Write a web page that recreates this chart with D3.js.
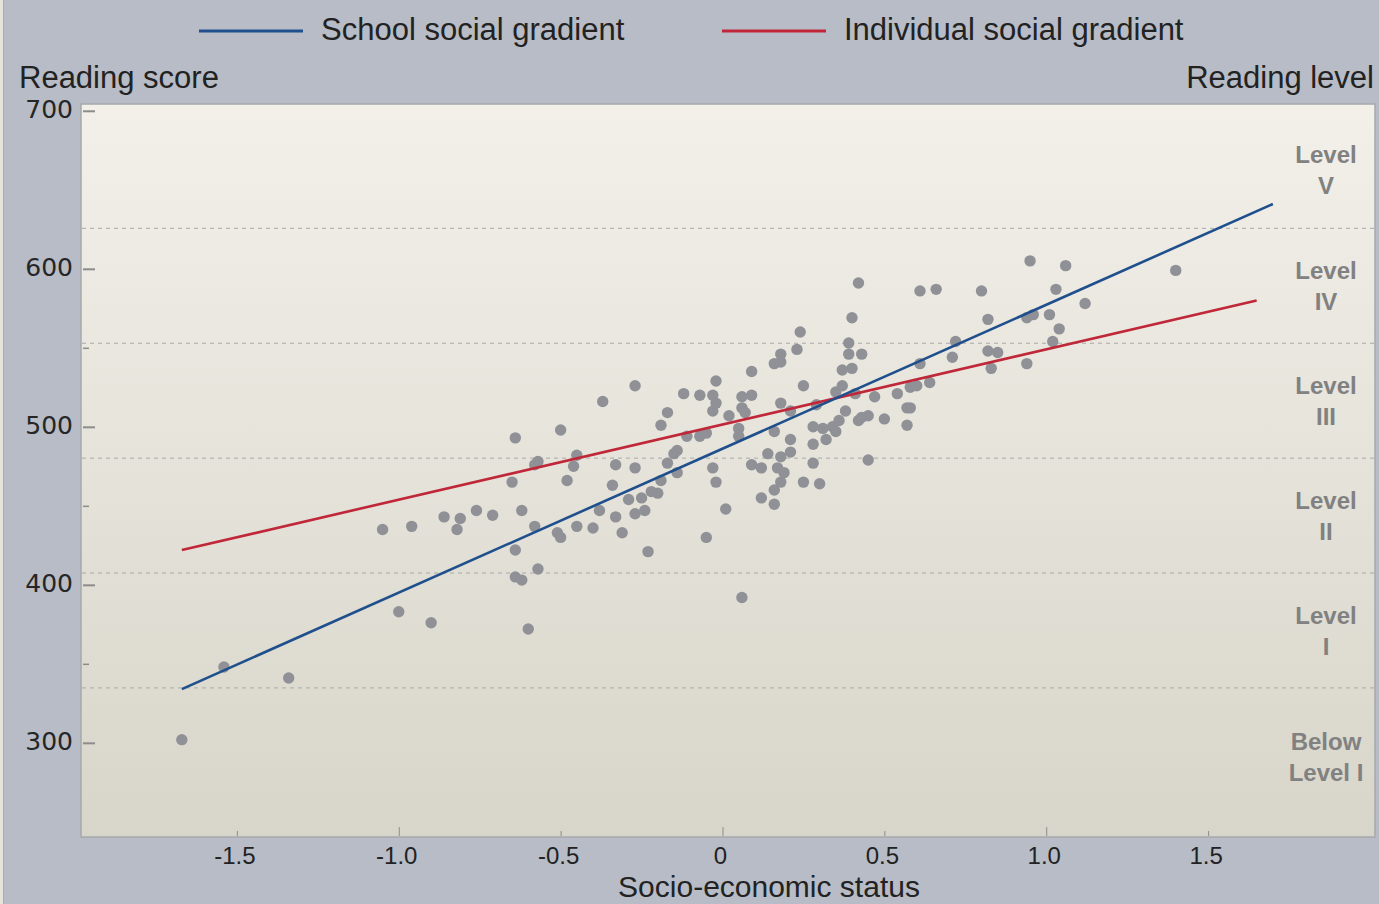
<!DOCTYPE html>
<html>
<head>
<meta charset="utf-8">
<script src="https://cdn.jsdelivr.net/npm/d3@7"></script>
<style>
  html, body { margin: 0; padding: 0; background: #b7bcc6; }
  svg { display: block; }
</style>
</head>
<body>
<svg id="chart" width="1379" height="904"></svg>
<script>
// ---------------- DATA ----------------
const sesValues = [
  -1.67,-1.54,-1.34,-1.00,-0.90,-1.05,-0.96,-0.86,-0.81,-0.82,
  -0.76,-0.71,-0.65,-0.64,-0.64,-0.64,-0.62,-0.62,-0.60,-0.58,
  -0.57,-0.58,-0.57,-0.51,-0.50,-0.50,-0.48,-0.46,-0.45,-0.45,
  -0.40,-0.38,-0.37,-0.34,-0.33,-0.33,-0.31,-0.29,-0.27,-0.27,
  -0.27,-0.25,-0.24,-0.23,-0.22,-0.20,-0.19,-0.19,-0.17,-0.17,
  -0.15,-0.14,-0.14,-0.12,-0.11,-0.07,-0.07,-0.05,-0.05,-0.03,
  -0.03,-0.03,-0.02,-0.02,-0.02, 0.01, 0.02, 0.05, 0.05, 0.06,
   0.07, 0.06, 0.09, 0.09, 0.09, 0.06, 0.12, 0.12, 0.14, 0.16,
   0.18, 0.16, 0.16, 0.16, 0.17, 0.18, 0.18, 0.18, 0.18, 0.19,
   0.21, 0.21, 0.21, 0.23, 0.24, 0.25, 0.25, 0.28, 0.28, 0.28,
   0.29, 0.30, 0.31, 0.32, 0.34, 0.35, 0.35, 0.36, 0.37, 0.37,
   0.38, 0.39, 0.39, 0.40, 0.40, 0.41, 0.42, 0.42, 0.43, 0.43,
   0.45, 0.45, 0.47, 0.50, 0.54, 0.57, 0.58, 0.57, 0.58, 0.60,
   0.61, 0.61, 0.64, 0.66, 0.71, 0.72, 0.80, 0.82, 0.82, 0.83,
   0.85, 0.94, 0.96, 0.94, 0.95, 1.01, 1.02, 1.03, 1.04, 1.06,
   1.12, 1.40
];
const readingScores = [
  302,348,341,383,376,435,437,443,442,435,
  447,444,465,493,422,405,403,447,372,476,
  478,437,410,433,430,498,466,475,482,437,
  436,447,516,463,476,443,433,454,526,474,
  445,455,447,421,459,458,501,466,509,477,
  483,485,471,521,494,520,494,496,430,520,
  510,474,465,529,515,448,507,499,494,512,
  509,519,520,535,476,392,474,455,483,540,
  541,497,460,451,474,546,515,481,465,471,
  510,492,484,549,560,526,465,500,489,477,
  514,464,499,492,500,497,522,504,536,526,
  510,553,546,537,569,521,504,591,546,506,
  507,479,519,505,521,512,512,501,525,526,
  540,586,528,587,544,554,586,568,548,537,
  547,569,571,540,605,571,554,587,562,602,
  578,599
];
const schoolGradient = [ { ses: -1.67, score: 334 }, { ses: 1.70, score: 641 } ];
const individualGradient = [ { ses: -1.67, score: 422 }, { ses: 1.65, score: 580 } ];

const levelCutoffs = [334.75, 407.47, 480.18, 552.89, 625.61];
const levelLabelOuterEdges = [248, 699];
const levelNames = [["Below", "Level I"], ["Level", "I"], ["Level", "II"], ["Level", "III"], ["Level", "IV"], ["Level", "V"]];

const xMajorTicks = [-1.0, 0, 1.0];
const xMinorTicks = [-1.5, -0.5, 0.5, 1.5];
const xTickLabels = [-1.5, -1.0, -0.5, 0, 0.5, 1.0, 1.5];
const yMajorTicks = [300, 400, 500, 600, 700];
const yMinorTicks = [350, 450, 550];

const legendItems = [
  { name: "School social gradient", color: "#1f4f8c" },
  { name: "Individual social gradient", color: "#c02739" }
];

// ---------------- CHART ----------------
const svg = d3.select("#chart");
const W = 1379, H = 904;
const plot = { left: 81, right: 1375, top: 104, bottom: 837 };

const x = d3.scaleLinear().domain([-1.9815, 2.0155]).range([plot.left, plot.right]);
const y = d3.scaleLinear().domain([240.4, 704.3]).range([plot.bottom, plot.top]);

svg.append("rect").attr("width", W).attr("height", H).attr("fill", "#b7bcc6");
// left light strip
svg.append("rect").attr("x", 0).attr("y", 0).attr("width", 3).attr("height", H).attr("fill", "#e8e4d9");
svg.append("line").attr("x1", 3.5).attr("x2", 3.5).attr("y1", 0).attr("y2", H).attr("stroke", "#a9acb3").attr("stroke-width", 1);

const defs = svg.append("defs");
const grad = defs.append("linearGradient").attr("id", "plotGrad").attr("x1", 0).attr("y1", 0).attr("x2", 0).attr("y2", 1);
grad.append("stop").attr("offset", "0%").attr("stop-color", "#f2f0e9");
grad.append("stop").attr("offset", "100%").attr("stop-color", "#d8d5ca");

svg.append("rect")
  .attr("x", plot.left).attr("y", plot.top)
  .attr("width", plot.right - plot.left).attr("height", plot.bottom - plot.top)
  .attr("fill", "url(#plotGrad)")
  .attr("stroke", "#a6a8ab").attr("stroke-width", 1.5);

// level dashed lines
svg.append("g").selectAll("line").data(levelCutoffs).join("line")
  .attr("x1", plot.left + 1).attr("x2", plot.right - 1)
  .attr("y1", d => y(d)).attr("y2", d => y(d))
  .attr("stroke", "#a9a9a9").attr("stroke-width", 1).attr("stroke-dasharray", "4,4");

// y ticks (inside)
const yAxisMajor = d3.axisRight(y).tickValues(yMajorTicks).tickSize(12).tickFormat("");
const gy = svg.append("g").attr("transform", `translate(${plot.left + 2},0)`).call(yAxisMajor);
gy.select(".domain").remove();
gy.selectAll("line").attr("stroke", "#8c8c8c").attr("stroke-width", 2);
const yAxisMinor = d3.axisRight(y).tickValues(yMinorTicks).tickSize(6).tickFormat("");
const gy2 = svg.append("g").attr("transform", `translate(${plot.left + 2},0)`).call(yAxisMinor);
gy2.select(".domain").remove();
gy2.selectAll("line").attr("stroke", "#8c8c8c").attr("stroke-width", 1.5);

// y tick labels
svg.append("g").selectAll("text").data(yMajorTicks).join("text")
  .attr("x", 73).attr("y", d => y(d) - 2)
  .attr("dy", "0.36em")
  .attr("text-anchor", "end")
  .attr("font-family", "DejaVu Sans, sans-serif")
  .attr("font-size", 25)
  .attr("fill", "#262626")
  .text(d => d);

// x ticks (inside, pointing up)
const xAxisMajor = d3.axisTop(x).tickValues(xMajorTicks).tickSize(9).tickFormat("");
const gx = svg.append("g").attr("transform", `translate(0,${plot.bottom - 1})`).call(xAxisMajor);
gx.select(".domain").remove();
gx.selectAll("line").attr("stroke", "#8c8c8c").attr("stroke-width", 1);
const xAxisMinor = d3.axisTop(x).tickValues(xMinorTicks).tickSize(5).tickFormat("");
const gx2 = svg.append("g").attr("transform", `translate(0,${plot.bottom - 1})`).call(xAxisMinor);
gx2.select(".domain").remove();
gx2.selectAll("line").attr("stroke", "#8c8c8c").attr("stroke-width", 1);

const fmtX = d => d === 0 ? "0" : d.toFixed(1);
svg.append("g").selectAll("text").data(xTickLabels).join("text")
  .attr("x", d => x(d) - 2).attr("y", 864)
  .attr("text-anchor", "middle")
  .attr("font-family", "Liberation Sans, Arial, sans-serif")
  .attr("font-size", 24)
  .attr("fill", "#222")
  .text(fmtX);

// points
const pts = sesValues.map((s, i) => ({ ses: s, score: readingScores[i] }));
svg.append("g").selectAll("circle").data(pts).join("circle")
  .attr("cx", d => x(d.ses)).attr("cy", d => y(d.score))
  .attr("r", 5.7)
  .attr("fill", "#8f9197");

// gradient lines
const lineGen = d3.line().x(d => x(d.ses)).y(d => y(d.score));
svg.append("path").datum(individualGradient).attr("d", lineGen)
  .attr("fill", "none").attr("stroke", legendItems[1].color).attr("stroke-width", 2.6);
svg.append("path").datum(schoolGradient).attr("d", lineGen)
  .attr("fill", "none").attr("stroke", legendItems[0].color).attr("stroke-width", 2.6);

// level labels
const bounds = [levelLabelOuterEdges[0], ...levelCutoffs, levelLabelOuterEdges[1]];
const lvlG = svg.append("g");
levelNames.forEach((lines, i) => {
  const mid = y((bounds[i] + bounds[i + 1]) / 2);
  lines.forEach((t, j) => {
    lvlG.append("text")
      .attr("x", 1326).attr("y", mid + (j - 0.5) * 31)
      .attr("dy", "0.36em")
      .attr("text-anchor", "middle")
      .attr("font-family", "Liberation Sans, Arial, sans-serif")
      .attr("font-weight", "bold")
      .attr("font-size", 24)
      .attr("fill", "#818181")
      .text(t);
  });
});

// titles
const txt = (tx, ty, s, anchor, fs) => svg.append("text")
  .attr("x", tx).attr("y", ty).attr("text-anchor", anchor)
  .attr("font-family", "Liberation Sans, Arial, sans-serif")
  .attr("font-size", fs || 31).attr("fill", "#222").text(s);
txt(19, 88, "Reading score", "start");
txt(1374, 88, "Reading level", "end");
txt(769, 897, "Socio-economic status", "middle", 30);

// legend
const legendX = [199, 722];
legendItems.forEach((it, i) => {
  svg.append("line").attr("x1", legendX[i]).attr("x2", legendX[i] + 104)
    .attr("y1", 31).attr("y2", 31)
    .attr("stroke", it.color).attr("stroke-width", 3);
  txt(legendX[i] + 122, 40, it.name, "start");
});
</script>
</body>
</html>
